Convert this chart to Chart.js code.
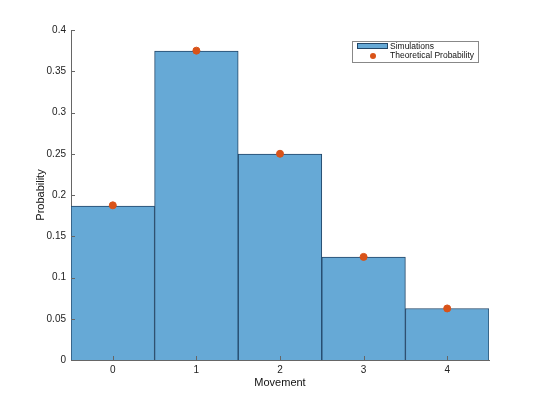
<!DOCTYPE html>
<html>
<head>
<meta charset="utf-8">
<script src="https://cdn.jsdelivr.net/npm/chart.js@4"></script>
<style>
  html, body { margin: 0; padding: 0; background: #fff; }
  #wrap { width: 540px; height: 405px; }
</style>
</head>
<body>
<div id="wrap"><canvas id="histChart"></canvas></div>
<script>
const movements = ["0", "1", "2", "3", "4"];
const simulated = [0.1866, 0.3745, 0.2497, 0.1248, 0.0624];
const theoretical = [0.1875, 0.375, 0.25, 0.125, 0.0625];
const yTicks = [0, 0.05, 0.1, 0.15, 0.2, 0.25, 0.3, 0.35, 0.4];

const fontFam = "'Liberation Sans', Arial, Helvetica, sans-serif";
const barFill = "rgb(102, 169, 214)";
const barEdge = "rgb(34, 70, 104)";
const dotColor = "rgb(217, 83, 25)";
const axisColor = "#666";

// small inward tick marks like matlab
const inwardTicks = {
  id: "inwardTicks",
  afterDatasetsDraw(chart) {
    const ctx = chart.ctx;
    const xs = chart.scales.x, ys = chart.scales.y;
    const area = chart.chartArea;
    ctx.save();
    ctx.strokeStyle = axisColor;
    ctx.lineWidth = 1;
    ctx.beginPath();
    yTicks.forEach((v) => {
      const py = Math.round(ys.getPixelForValue(v)) + 0.5;
      ctx.moveTo(area.left, py);
      ctx.lineTo(area.left + 4, py);
    });
    movements.forEach((m, i) => {
      const px = Math.round(xs.getPixelForValue(i)) + 0.5;
      ctx.moveTo(px, area.bottom);
      ctx.lineTo(px, area.bottom - 4);
    });
    ctx.stroke();
    ctx.restore();
  }
};

// legend box drawn inside the axes
const boxLegend = {
  id: "boxLegend",
  afterDraw(chart) {
    const ctx = chart.ctx;
    const x = 352, y = 41, w = 126, h = 21;
    ctx.save();
    ctx.fillStyle = "#fff";
    ctx.fillRect(x, y, w, h);
    ctx.strokeStyle = "#888";
    ctx.lineWidth = 1;
    ctx.strokeRect(x + 0.5, y + 0.5, w, h);
    ctx.fillStyle = barFill;
    ctx.fillRect(x + 5, y + 2, 30, 5);
    ctx.strokeStyle = barEdge;
    ctx.strokeRect(x + 5.5, y + 2.5, 30, 5);
    ctx.fillStyle = dotColor;
    ctx.beginPath();
    ctx.arc(x + 21, y + 15, 3, 0, Math.PI * 2);
    ctx.fill();
    ctx.fillStyle = "#111";
    ctx.font = "8.5px " + fontFam;
    ctx.textBaseline = "middle";
    ctx.fillText(chart.data.datasets[0].label, x + 38, y + 6);
    ctx.fillText(chart.data.datasets[1].label, x + 38, y + 15);
    ctx.restore();
  }
};

new Chart(document.getElementById("histChart"), {
  type: "bar",
  data: {
    labels: movements,
    datasets: [
      {
        label: "Simulations",
        data: simulated,
        backgroundColor: barFill,
        borderColor: barEdge,
        borderWidth: 1,
        barPercentage: 1,
        categoryPercentage: 1,
        order: 2
      },
      {
        type: "line",
        label: "Theoretical Probability",
        data: theoretical,
        showLine: false,
        pointRadius: 3.5,
        pointBackgroundColor: dotColor,
        pointBorderColor: dotColor,
        order: 1
      }
    ]
  },
  options: {
    responsive: true,
    maintainAspectRatio: false,
    animation: false,
    layout: { padding: { top: 30, right: 51, left: 34, bottom: 15 } },
    plugins: {
      legend: { display: false },
      tooltip: { enabled: false }
    },
    scales: {
      x: {
        grid: { display: false, drawTicks: false },
        border: { display: true, color: axisColor },
        ticks: { color: "#222", font: { family: fontFam, size: 10 }, padding: 4 },
        title: {
          display: true,
          text: "Movement",
          color: "#111",
          font: { family: fontFam, size: 11 },
          padding: { top: 0, bottom: 0 }
        },
        afterFit(axis) { axis.height = 30; }
      },
      y: {
        min: 0,
        max: 0.4,
        afterBuildTicks(axis) { axis.ticks = yTicks.map((v) => ({ value: v })); },
        grid: { display: false, drawTicks: false },
        border: { display: true, color: axisColor },
        ticks: {
          color: "#222",
          font: { family: fontFam, size: 10 },
          padding: 5,
          callback: (v) => String(v)
        },
        title: {
          display: true,
          text: "Probability",
          color: "#111",
          font: { family: fontFam, size: 11 },
          padding: { top: 0, bottom: 0 }
        },
        afterFit(axis) { axis.width = 37; }
      }
    }
  },
  plugins: [inwardTicks, boxLegend]
});
</script>
</body>
</html>
